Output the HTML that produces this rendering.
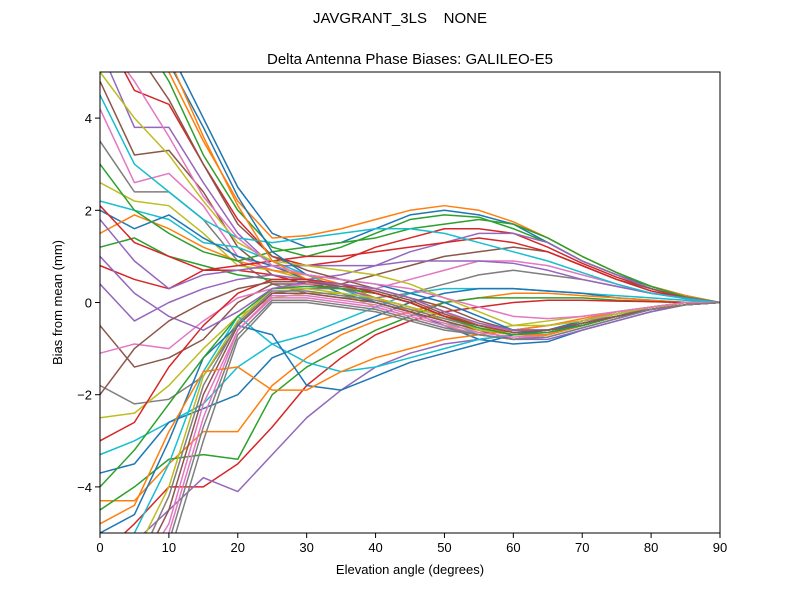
<!DOCTYPE html>
<html><head><meta charset="utf-8"><style>
html,body{margin:0;padding:0;background:#fff;width:800px;height:600px;overflow:hidden}
svg{display:block;font-family:"Liberation Sans","DejaVu Sans",sans-serif}
</style></head><body>
<svg id="chart" width="800" height="600">
<text x="400" y="23" text-anchor="middle" font-size="15" style="white-space:pre" xml:space="preserve">JAVGRANT_3LS    NONE</text>
<text x="410" y="64" text-anchor="middle" font-size="15">Delta Antenna Phase Biases: GALILEO-E5</text>
<text x="410" y="574" text-anchor="middle" font-size="13">Elevation angle (degrees)</text>
<text transform="translate(62,302.5) rotate(-90)" text-anchor="middle" font-size="13">Bias from mean (mm)</text>
<g id="lines"></g>
<rect x="100" y="72" width="620" height="461" fill="none" stroke="#000" stroke-width="1"/>
<g id="ticks"></g>
</svg>
<script>
const elevations=[0,5,10,15,20,25,30,35,40,45,50,55,60,65,70,75,80,85,90];
const xTicks=[0,10,20,30,40,50,60,70,80,90];
const yTicks=[-4,-2,0,2,4];
const s01=[9,7,5.5,4,2.5,1.5,1.2,1.3,1.6,1.9,2.0,1.9,1.7,1.3,0.9,0.6,0.35,0.15,0];
const s02=[8,6.5,5,3.5,2.2,1.4,1.45,1.6,1.8,2.0,2.1,2.0,1.75,1.4,1.0,0.65,0.35,0.15,0];
const s03=[7,6,4.8,3.2,2.0,1.2,1.0,1.2,1.5,1.8,1.9,1.85,1.6,1.3,0.9,0.6,0.3,0.12,0];
const s04=[6,4.6,4.3,3.0,1.8,1.0,0.8,0.9,1.2,1.4,1.6,1.6,1.5,1.2,0.85,0.55,0.3,0.1,0];
const s05=[5.5,3.8,3.8,2.6,1.5,0.8,0.5,0.6,0.8,1.1,1.3,1.5,1.5,1.3,0.9,0.6,0.3,0.1,0];
const s06=[4.8,3.2,3.3,2.4,1.2,0.6,0.4,0.4,0.6,0.8,1.0,1.1,1.2,1.1,0.8,0.5,0.3,0.1,0];
const s07=[4.2,2.6,2.8,2.1,1.0,0.7,0.5,0.3,0.3,0.5,0.7,0.9,0.9,0.8,0.6,0.4,0.2,0.1,0];
const s08=[3.5,2.4,2.4,1.8,0.9,0.4,0.2,0.1,0.1,0.2,0.4,0.6,0.7,0.6,0.5,0.35,0.2,0.1,0];
const s09=[2.6,2.2,2.1,1.5,0.8,0.7,0.5,0.2,-0.1,-0.3,-0.5,-0.6,-0.5,-0.4,-0.3,-0.2,-0.1,0,0];
const s10=[2.2,2.0,1.8,1.3,1.2,0.9,0.6,0.3,0.0,-0.2,-0.4,-0.7,-0.8,-0.7,-0.5,-0.3,-0.15,-0.05,0];
const s11=[2.0,1.6,1.9,1.4,1.0,0.8,0.5,0.2,0,-0.2,-0.5,-0.8,-0.9,-0.85,-0.6,-0.4,-0.2,-0.05,0];
const s12=[1.5,1.9,1.6,1.2,0.9,0.7,0.6,0.4,0.1,-0.2,-0.4,-0.6,-0.7,-0.7,-0.5,-0.3,-0.15,-0.05,0];
const s13=[1.2,1.4,1.0,0.8,0.6,0.5,0.5,0.3,0.2,0.0,-0.3,-0.5,-0.6,-0.5,-0.4,-0.2,-0.1,0,0];
const s14=[0.8,0.5,0.3,0.7,0.7,0.6,0.4,0.3,0.1,-0.1,-0.3,-0.5,-0.6,-0.6,-0.5,-0.3,-0.15,-0.05,0];
const s15=[0.4,-0.4,0.0,0.3,0.5,0.6,0.5,0.3,0.1,-0.1,-0.3,-0.6,-0.8,-0.8,-0.6,-0.4,-0.2,-0.05,0];
const s16=[-0.5,-1.4,-1.2,-0.8,0.0,0.4,0.4,0.3,0.2,0,-0.3,-0.5,-0.6,-0.6,-0.5,-0.3,-0.15,-0.05,0];
const s17=[-1.1,-0.9,-1.0,-0.4,0.1,0.3,0.4,0.4,0.3,0.1,-0.2,-0.5,-0.6,-0.5,-0.4,-0.2,-0.1,0,0];
const s18=[-1.8,-2.2,-2.1,-1.6,-0.5,0.2,0.3,0.3,0.2,0.0,-0.3,-0.6,-0.7,-0.6,-0.5,-0.3,-0.1,0,0];
const s19=[-2.5,-2.4,-1.8,-1.0,-0.3,0.1,0.2,0.2,0.1,-0.1,-0.4,-0.6,-0.7,-0.7,-0.5,-0.3,-0.15,0,0];
const s20=[-3.3,-3.0,-2.6,-2.2,-1.4,-0.9,-0.7,-0.4,-0.1,0.2,0.3,0.3,0.3,0.25,0.2,0.15,0.1,0.05,0];
const s21=[-3.7,-3.5,-2.6,-2.3,-2.0,-1.2,-0.9,-0.6,-0.3,0.0,0.2,0.3,0.3,0.25,0.2,0.1,0.05,0,0];
const s22=[-4.3,-4.3,-3.5,-2.8,-2.8,-1.8,-1.2,-0.7,-0.4,-0.2,0.0,0.1,0.2,0.2,0.15,0.1,0.05,0,0];
const s23=[-4.5,-4.0,-3.4,-3.3,-3.4,-2.0,-1.4,-1.0,-0.6,-0.3,0.0,0.1,0.1,0.1,0.1,0.05,0.02,0,0];
const s24=[-5.5,-4.8,-4.0,-4.0,-3.5,-2.7,-1.8,-1.2,-0.7,-0.4,-0.2,-0.1,0,0.05,0.05,0.03,0.02,0,0];
const s25=[-5.5,-5.2,-4.5,-3.8,-4.1,-3.3,-2.5,-1.9,-1.4,-1.1,-0.9,-0.8,-0.7,-0.6,-0.4,-0.3,-0.15,-0.05,0];
const s26=[-7,-6,-4.5,-2.0,-0.5,0.2,0.2,0.1,0.0,-0.2,-0.4,-0.6,-0.8,-0.7,-0.5,-0.3,-0.15,-0.05,0];
const s27=[-8,-6.5,-5,-2.5,-0.6,0.1,0.1,0.0,-0.1,-0.3,-0.5,-0.7,-0.8,-0.7,-0.5,-0.3,-0.15,-0.05,0];
const s28=[-9,-7.5,-5.5,-3,-0.8,0.0,0.0,-0.1,-0.2,-0.4,-0.6,-0.7,-0.8,-0.75,-0.55,-0.35,-0.15,-0.05,0];
const s29=[-6,-5.5,-4,-1.6,-0.4,0.3,0.3,0.2,0.1,-0.1,-0.3,-0.6,-0.7,-0.7,-0.5,-0.3,-0.15,-0.05,0];
const s30=[-5.5,-5,-3.5,-1.5,-0.3,-0.9,-1.3,-1.5,-1.4,-1.2,-1.0,-0.8,-0.7,-0.6,-0.4,-0.25,-0.1,0,0];
const s31=[-5,-4.6,-3,-1.2,-0.5,-0.7,-1.8,-1.9,-1.6,-1.3,-1.1,-0.9,-0.7,-0.6,-0.4,-0.25,-0.1,0,0];
const s32=[-4.8,-4.4,-2.8,-1.5,-1.4,-1.9,-1.9,-1.5,-1.2,-1.0,-0.8,-0.7,-0.6,-0.5,-0.35,-0.2,-0.1,0,0];
const s33=[3.0,2.0,1.5,1.1,0.9,1.1,1.2,1.3,1.4,1.6,1.7,1.8,1.7,1.4,1.0,0.65,0.35,0.12,0];
const s34=[2.1,1.3,1.0,0.7,0.8,0.9,1.0,1.0,1.1,1.2,1.3,1.4,1.3,1.1,0.8,0.5,0.25,0.1,0];
const s35=[1.8,0.9,0.3,0.6,0.7,0.8,0.8,0.8,0.8,0.9,0.9,0.9,0.85,0.7,0.5,0.35,0.2,0.1,0];
const s36=[6.5,5.5,4.4,3.0,1.7,1.0,0.7,0.5,0.3,0.1,-0.1,-0.4,-0.6,-0.6,-0.5,-0.3,-0.15,-0.05,0];
const s37=[-7.5,-6,-4.8,-2.2,-0.6,0.15,0.15,0.05,-0.05,-0.25,-0.45,-0.65,-0.75,-0.7,-0.5,-0.3,-0.15,-0.05,0];
const s38=[-6.5,-5.8,-4.2,-1.8,-0.45,0.25,0.25,0.15,0.05,-0.15,-0.35,-0.55,-0.7,-0.65,-0.5,-0.3,-0.15,-0.05,0];
const s39=[5.0,4.0,3.2,2.2,1.3,0.9,0.8,0.7,0.6,0.4,0.1,-0.2,-0.5,-0.5,-0.4,-0.25,-0.1,0,0];
const s40=[4.5,3.0,2.4,1.8,1.4,1.3,1.4,1.5,1.6,1.6,1.5,1.3,1.1,0.9,0.65,0.4,0.2,0.08,0];
const s41=[7.5,6.2,5.2,3.8,2.3,1.1,0.6,0.5,0.4,0.2,0.0,-0.3,-0.6,-0.6,-0.5,-0.3,-0.15,-0.05,0];
const s42=[8.5,7,5.3,3.6,2.1,0.9,0.5,0.4,0.3,0.1,-0.2,-0.5,-0.7,-0.7,-0.5,-0.3,-0.15,-0.05,0];
const s43=[-4.0,-3.2,-2.2,-1.2,-0.3,0.3,0.35,0.3,0.2,0.0,-0.3,-0.55,-0.7,-0.65,-0.5,-0.3,-0.15,-0.05,0];
const s44=[-3.0,-2.6,-1.4,-0.5,0.2,0.5,0.5,0.4,0.2,0.0,-0.3,-0.5,-0.65,-0.6,-0.45,-0.3,-0.15,-0.05,0];
const s45=[1.0,0.2,-0.3,-0.6,-0.2,0.3,0.45,0.4,0.3,0.1,-0.2,-0.45,-0.6,-0.6,-0.45,-0.3,-0.15,-0.05,0];
const s46=[-2.0,-1.0,-0.4,0.0,0.3,0.45,0.45,0.35,0.25,0.05,-0.25,-0.5,-0.65,-0.6,-0.45,-0.3,-0.15,-0.05,0];
const s47=[5.8,4.8,3.6,2.3,1.4,0.8,0.6,0.5,0.4,0.3,0.1,-0.1,-0.3,-0.35,-0.3,-0.2,-0.1,0,0];
const s48=[-8.5,-7,-5.2,-2.7,-0.7,0.05,0.05,-0.05,-0.15,-0.35,-0.55,-0.7,-0.8,-0.75,-0.55,-0.35,-0.15,-0.05,0];
const seriesList=[s01,s02,s03,s04,s05,s06,s07,s08,s09,s10,s11,s12,s13,s14,s15,s16,s17,s18,s19,s20,s21,s22,s23,s24,s25,s26,s27,s28,s29,s30,s31,s32,s33,s34,s35,s36,s37,s38,s39,s40,s41,s42,s43,s44,s45,s46,s47,s48];
const colors=["#1f77b4","#ff7f0e","#2ca02c","#d62728","#9467bd","#8c564b","#e377c2","#7f7f7f","#bcbd22","#17becf"];
const YMIN=-5,YMAX=5;
const X0=100,X1=720,Y0=533,Y1=72;
const xs=v=>X0+(v-0)/(90-0)*(X1-X0);
const ys=v=>Y0-(v-YMIN)/(YMAX-YMIN)*(Y0-Y1);
const NS="http://www.w3.org/2000/svg";
// clip a segment vertically to [YMIN,YMAX] in data space
function clipSeg(xa,ya,xb,yb){
  let t0=0,t1=1;const dy=yb-ya;
  if(dy===0){ if(ya<YMIN||ya>YMAX) return null; }
  else{
    let ta=(YMIN-ya)/dy,tb=(YMAX-ya)/dy;
    if(ta>tb){const t=ta;ta=tb;tb=t;}
    t0=Math.max(t0,ta);t1=Math.min(t1,tb);
    if(t0>t1) return null;
  }
  return [xa+(xb-xa)*t0,ya+dy*t0,xa+(xb-xa)*t1,ya+dy*t1];
}
const lg=document.getElementById('lines');
seriesList.forEach((s,i)=>{
  let d='';let lastX=null,lastY=null;
  for(let j=0;j<s.length-1;j++){
    const c=clipSeg(elevations[j],s[j],elevations[j+1],s[j+1]);
    if(!c) continue;
    const ax=xs(c[0]),ay=ys(c[1]),bx=xs(c[2]),by=ys(c[3]);
    if(lastX===null||Math.abs(lastX-ax)>0.01||Math.abs(lastY-ay)>0.01) d+='M'+ax.toFixed(2)+','+ay.toFixed(2);
    d+='L'+bx.toFixed(2)+','+by.toFixed(2);
    lastX=bx;lastY=by;
  }
  const p=document.createElementNS(NS,'path');
  p.setAttribute('d',d);
  p.setAttribute('fill','none');
  p.setAttribute('stroke',colors[i%colors.length]);
  p.setAttribute('stroke-width','1.5');
  p.setAttribute('stroke-linejoin','round');
  
  
  lg.appendChild(p);
});
const tg=document.getElementById('ticks');
xTicks.forEach(t=>{
  const x=xs(t);
  const l=document.createElementNS(NS,'line');
  l.setAttribute('x1',x);l.setAttribute('x2',x);l.setAttribute('y1',Y0);l.setAttribute('y2',Y0+5);
  l.setAttribute('stroke','#000');
  
  
  tg.appendChild(l);
  const tx=document.createElementNS(NS,'text');
  tx.setAttribute('x',x);tx.setAttribute('y',Y0+19);tx.setAttribute('text-anchor','middle');tx.setAttribute('font-size','13');
  tx.textContent=t;
  
  
  tg.appendChild(tx);
});
yTicks.forEach(t=>{
  const y=ys(t);
  const l=document.createElementNS(NS,'line');
  l.setAttribute('x1',X0-5);l.setAttribute('x2',X0);l.setAttribute('y1',y);l.setAttribute('y2',y);
  l.setAttribute('stroke','#000');
  
  
  tg.appendChild(l);
  const tx=document.createElementNS(NS,'text');
  tx.setAttribute('x',X0-8);tx.setAttribute('y',y+5);tx.setAttribute('text-anchor','end');tx.setAttribute('font-size','13');
  tx.textContent=(t<0?'\u2212'+(-t):t);
  
  
  tg.appendChild(tx);
});
</script>
</body></html>
